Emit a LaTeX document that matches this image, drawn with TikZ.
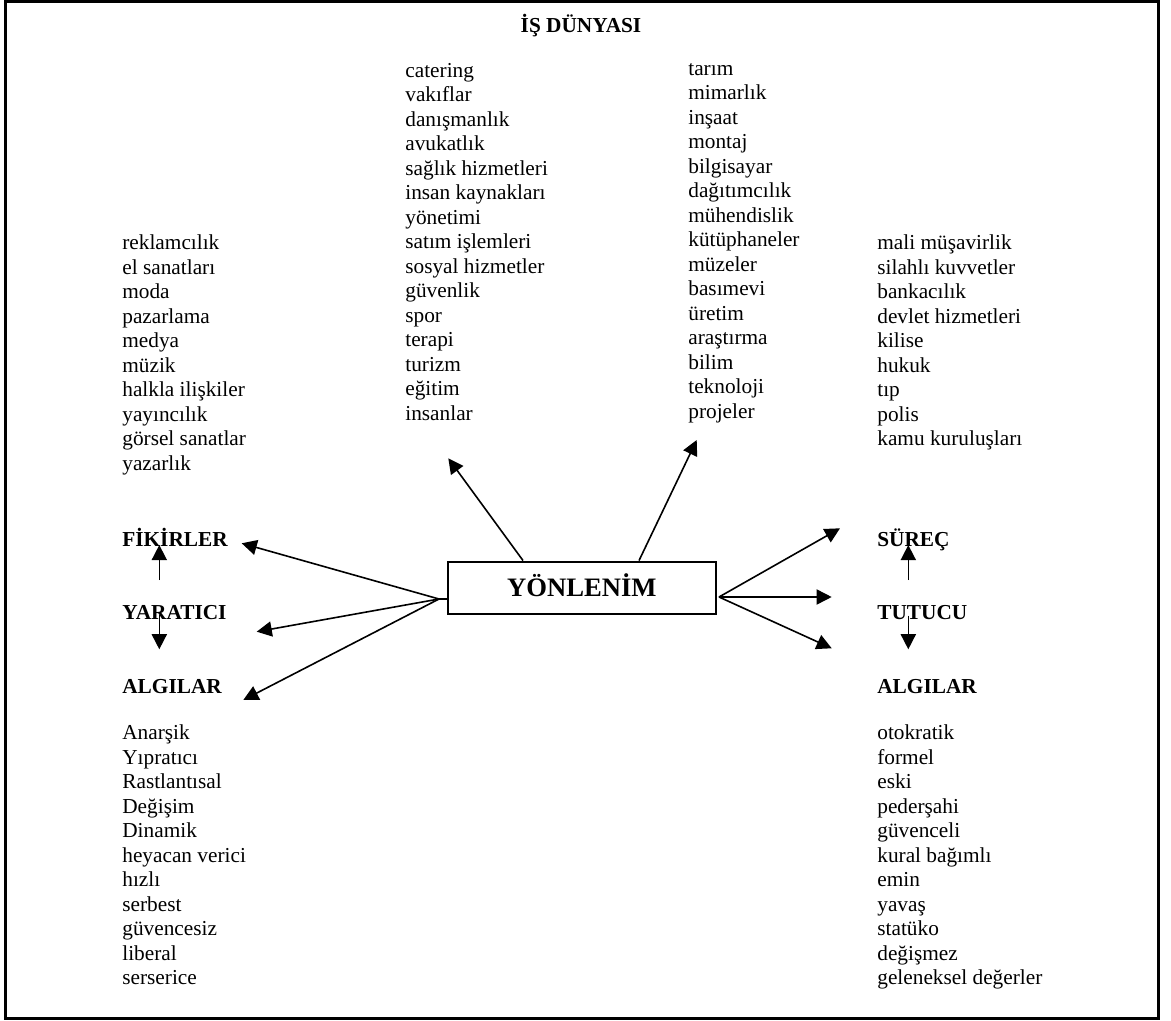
\documentclass[tikz,border=0pt]{standalone}
\usepackage{fontspec}
\setmainfont{Liberation Serif}
\usetikzlibrary{arrows.meta,positioning,calc}
\tikzset{
  listbox/.style={
    anchor=north west, inner sep=0pt, align=left, yshift=9.66pt,
    font=\fontsize{12pt}{13.8pt}\selectfont,
    execute at begin node=\strut
  },
  headlbl/.style={
    anchor=base west, inner sep=0pt,
    font=\fontsize{12pt}{13.8pt}\selectfont\bfseries
  },
  centerbox/.style={
    rectangle, draw, line width=1.2pt, inner sep=0pt,
    minimum width=151.1pt, minimum height=29.6pt,
    text height=10pt, text depth=0pt,
    font=\fontsize{15pt}{18pt}\selectfont\bfseries
  },
  dirarrow/.style={-{Triangle[length=8.5pt,width=8.5pt]}, line width=0.9pt}
}
\begin{document}
\begin{tikzpicture}[x=0.5633pt, y=-0.5633pt]
  \useasboundingbox (0,0) rectangle (1171,1021);
  % frame
  \draw[line width=1.7pt] (5.5,1) rectangle (1158.5,1018.5);

  \node[headlbl, anchor=base] (isd) at (581,32.7) {İŞ DÜNYASI};

  % lists
  \node[listbox] (yaraticilist) at (122,252)
    {reklamcılık\\el sanatları\\moda\\pazarlama\\medya\\müzik\\halkla ilişkiler\\yayıncılık\\görsel sanatlar\\yazarlık};
  \node[listbox] (insanlist) at (405,80)
    {catering\\vakıflar\\danışmanlık\\avukatlık\\sağlık hizmetleri\\insan kaynakları\\yönetimi\\satım işlemleri\\sosyal hizmetler\\güvenlik\\spor\\terapi\\turizm\\eğitim\\insanlar};
  \node[listbox] (projelist) at (688,80)
    {tarım\\mimarlık\\inşaat\\montaj\\bilgisayar\\dağıtımcılık\\mühendislik\\kütüphaneler\\müzeler\\basımevi\\üretim\\araştırma\\bilim\\teknoloji\\projeler};
  \node[listbox] (tutuculist) at (877,252)
    {mali müşavirlik\\silahlı kuvvetler\\bankacılık\\devlet hizmetleri\\kilise\\hukuk\\tıp\\polis\\kamu kuruluşları};
  \node[listbox] (algleft) at (122,742)
    {Anarşik\\Yıpratıcı\\Rastlantısal\\Değişim\\Dinamik\\heyacan verici\\hızlı\\serbest\\güvencesiz\\liberal\\serserice};
  \node[listbox] (algright) at (877,742)
    {otokratik\\formel\\eski\\pederşahi\\güvenceli\\kural bağımlı\\emin\\yavaş\\statüko\\değişmez\\geleneksel değerler};

  % labels
  \node[headlbl] (fikir) at (122,546) {FİKİRLER};
  \node[headlbl] (yarat) at (122,619.5) {YARATICI};
  \node[headlbl] (algl)  at (122,693) {ALGILAR};
  \node[headlbl] (surec) at (877,546) {SÜREÇ};
  \node[headlbl] (tutucu) at (877,619.5) {TUTUCU};
  \node[headlbl] (algr)  at (877,693) {ALGILAR};

  \node[centerbox] (yon) at (581.9,587.9) {YÖNLENİM};

  % arrow ends
  \coordinate (lhub) at (439,599);
  \coordinate (rhub) at (719,597);
  \coordinate (tipfik) at (241.7,543.3);
  \coordinate (tipyar) at (256.7,631.7);
  \coordinate (tipalgl) at (243.3,700);
  \coordinate (tipins) at (448.3,458.3);
  \coordinate (tipproj) at (696.7,440);
  \coordinate (tipsur) at (840,528.3);
  \coordinate (tiptut) at (831.7,597);
  \coordinate (tipalgr) at (831.7,648.3);

  % Arrows
  \draw[line width=0.9pt] (lhub) -- (lhub -| yon.west);
  \draw[dirarrow] (lhub) -- (tipfik);
  \draw[dirarrow] (lhub) -- (tipyar);
  \draw[dirarrow] (lhub) -- (tipalgl);
  \draw[dirarrow] ($(yon.north west)+(76.3,0)$) -- (tipins);
  \draw[dirarrow] ($(yon.north west)+(192.3,0)$) -- (tipproj);
  \draw[dirarrow] (rhub) -- (tipsur);
  \draw[dirarrow] (rhub) -- (tiptut);
  \draw[dirarrow] (rhub) -- (tipalgr);

  % small arrows between labels
  \coordinate (ly1) at (159.3,580);  \coordinate (lf1) at (159.3,545);
  \coordinate (ly2) at (159.3,615);  \coordinate (la1) at (159.3,649.3);
  \coordinate (rt1) at (908.3,580);  \coordinate (rs1) at (908.3,545);
  \coordinate (rt2) at (908.3,615.7); \coordinate (ra1) at (908.3,649.3);
  \draw[dirarrow] (ly1) -- (lf1);
  \draw[dirarrow] (ly2) -- (la1);
  \draw[dirarrow] (rt1) -- (rs1);
  \draw[dirarrow] (rt2) -- (ra1);
\end{tikzpicture}
\end{document}
